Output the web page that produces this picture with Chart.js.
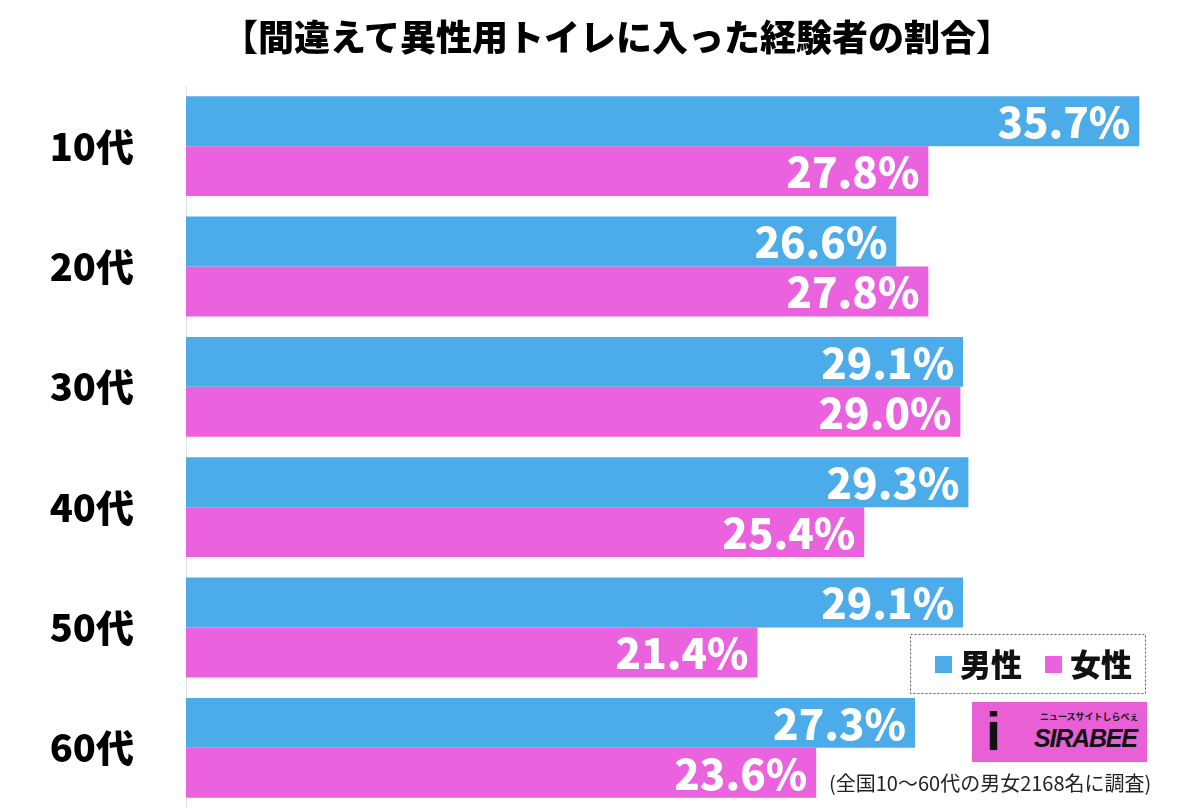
<!DOCTYPE html>
<html lang="ja">
<head>
<meta charset="utf-8">
<script src="https://cdn.jsdelivr.net/npm/chart.js@4.4.1/dist/chart.umd.min.js"></script>
<style>
    html, body { margin: 0; padding: 0; background: #fff; }
    #wrap { position: relative; width: 1200px; height: 808px; }
    canvas { display: block; }
    #title {
        position: absolute; left: 0; top: 12px; width: 1200px; box-sizing: border-box; padding-left: 34px;
        text-align: center; font-family: 'Noto Sans CJK JP', sans-serif; font-size: 36px; font-weight: 900;
        line-height: 46px; color: #000; white-space: nowrap;
    }
    #logo {
        position: absolute; left: 972px; top: 702px; width: 175px; height: 60px; overflow: hidden;
        background: #e95fd6; font-family: 'Noto Sans CJK JP', sans-serif; color: #111;
    }
    #logo .i { position: absolute; left: 14px; top: 0; font-family: 'Liberation Sans', sans-serif;
        font-size: 54px; font-weight: 700; line-height: 58px; }
    #logo .sub { position: absolute; left: 68px; top: 10px; font-size: 9px; font-weight: 700; line-height: 10px; white-space: nowrap; }
    #logo .main { position: absolute; left: 62px; top: 22px; font-family: 'Liberation Sans', sans-serif;
        font-size: 25px; font-weight: 700; font-style: italic; line-height: 28px; letter-spacing: -1.2px; }
    #note {
        position: absolute; left: 829px; top: 768px; font-family: 'Noto Sans CJK JP', sans-serif;
        font-size: 20px; color: #222; white-space: nowrap;
    }
</style>
</head>
<body>
<div id="wrap">
    <canvas id="chart" width="1200" height="808"></canvas>
    <div id="title"></div>
    <div id="logo"><span class="i">i</span><span class="sub">ニュースサイトしらべぇ</span><span class="main">SIRABEE</span></div>
    <div id="note">(全国10～60代の男女2168名に調査)</div>
</div>
<script>
// 間違えて異性用トイレに入った経験者の割合
const TITLE = '【間違えて異性用トイレに入った経験者の割合】';
const AGES = ['10代', '20代', '30代', '40代', '50代', '60代'];
const MALE = [35.7, 26.6, 29.1, 29.3, 29.1, 27.3];
const FEMALE = [27.8, 27.8, 29.0, 25.4, 21.4, 23.6];

const BLUE = '#4cabe9';
const PINK = '#ea62dd';
const JP = "'Noto Sans CJK JP', sans-serif";

document.getElementById('title').textContent = TITLE;

// バー右端に白抜きの数値
const valueLabels = {
    id: 'valueLabels',
    afterDatasetsDraw(chart) {
        const { ctx } = chart;
        ctx.save();
        ctx.fillStyle = '#fff';
        ctx.font = `900 42px ${JP}`;
        ctx.textAlign = 'right';
        ctx.textBaseline = 'middle';
        chart.data.datasets.forEach((ds, i) => {
            chart.getDatasetMeta(i).data.forEach((bar, j) => {
                ctx.fillText(ds.data[j].toFixed(1) + '%', bar.x - 9, bar.y + 1);
            });
        });
        ctx.restore();
    }
};

// 点線枠の凡例
const boxLegend = {
    id: 'boxLegend',
    afterDraw(chart) {
        const { ctx } = chart;
        const x0 = 910, y0 = 634, w = 235, h = 59;
        ctx.save();
        ctx.fillStyle = '#fff';
        ctx.fillRect(x0, y0, w, h);
        ctx.setLineDash([2, 2]);
        ctx.strokeStyle = '#555';
        ctx.lineWidth = 1;
        ctx.strokeRect(x0 + 0.5, y0 + 0.5, w, h);
        ctx.setLineDash([]);
        ctx.font = `900 31px ${JP}`;
        ctx.textBaseline = 'middle';
        ctx.textAlign = 'left';
        let x = 935;
        chart.data.datasets.forEach(ds => {
            ctx.fillStyle = ds.backgroundColor;
            ctx.fillRect(x, 656, 17, 17);
            ctx.fillStyle = '#111';
            ctx.fillText(ds.label, x + 25, 664);
            x += 110;
        });
        ctx.restore();
    }
};

new Chart(document.getElementById('chart'), {
    type: 'bar',
    data: {
        labels: AGES,
        datasets: [
            { label: '男性', data: MALE, backgroundColor: BLUE },
            { label: '女性', data: FEMALE, backgroundColor: PINK }
        ]
    },
    options: {
        indexAxis: 'y',
        responsive: false,
        animation: false,
        layout: { padding: { top: 86, right: 26, bottom: 0, left: 0 } },
        datasets: { bar: { categoryPercentage: 0.83, barPercentage: 1.0 } },
        plugins: {
            legend: { display: false },
            tooltip: { enabled: false },
            title: { display: false }
        },
        scales: {
            x: { display: false, min: 0, max: 37 },
            y: {
                grid: { display: false },
                border: { display: true, color: '#e2e2e2' },
                ticks: { color: '#000', padding: 44, font: { family: JP, size: 38, weight: 900 } },
                afterFit(scale) {
                    scale.width = 186;
                    scale.paddingTop = 0;
                    scale.paddingBottom = 0;
                }
            }
        }
    },
    plugins: [valueLabels, boxLegend]
});
</script>
</body>
</html>
